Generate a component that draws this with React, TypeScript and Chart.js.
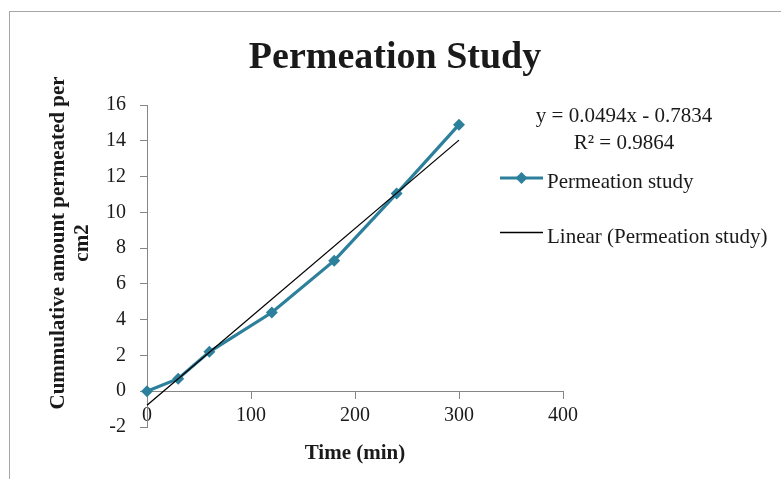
import React, { useEffect, useRef } from "react";
import { Chart, registerables } from "chart.js";

Chart.register(...registerables);

const TIME_MIN = [0, 30, 60, 120, 180, 240, 300];
const AMOUNT = [0, 0.7, 2.2, 4.4, 7.3, 11.05, 14.9];
const TREND_COEF = [0.0494, -0.7834]; // slope, intercept (Excel linear trendline)
const TREND_RANGE = [0, 300];
const X_TICKS = [0, 100, 200, 300, 400];
const Y_TICKS = [-2, 0, 2, 4, 6, 8, 10, 12, 14, 16];
const TITLE = "Permeation Study";
const X_TITLE = "Time (min)";
const Y_TITLE = ["Cummulative amount permeated per", "cm2"];
const SERIES_LABEL = "Permeation study";
const TREND_LABEL = "Linear (Permeation study)";
const EQUATION = ["y = 0.0494x - 0.7834", "R\u00B2 = 0.9864"];

const SERIES_COLOR = "#2C809B";
const AXIS_COLOR = "#868686";
const TEXT_COLOR = "#1a1a1a";
const FONT = "'Liberation Serif', 'Times New Roman', serif";

const W = 781;
const H = 479;

const overlay = {
  id: "overlay",
  beforeDraw(chart: any) {
    const ctx = chart.ctx;
    ctx.save();
    ctx.fillStyle = "#ffffff";
    ctx.fillRect(0, 0, W, H);
    ctx.strokeStyle = "#A6A6A6";
    ctx.lineWidth = 1;
    ctx.strokeRect(9.5, 11.5, 900, 700);
    ctx.restore();
  },
  afterDraw(chart: any) {
    const ctx = chart.ctx;
    const area = chart.chartArea;
    ctx.save();
    ctx.fillStyle = TEXT_COLOR;

    // Title
    ctx.font = `bold 38px ${FONT}`;
    ctx.textAlign = "center";
    ctx.textBaseline = "alphabetic";
    ctx.fillText(TITLE, 395, 68);

    // X axis title
    ctx.font = `bold 21px ${FONT}`;
    ctx.fillText(X_TITLE, (area.left + area.right) / 2, 459);

    // Y axis title (rotated)
    ctx.font = `bold 21px ${FONT}`;
    const yCenter = 243;
    const baselines = [64, 88];
    Y_TITLE.forEach((line, i) => {
      ctx.save();
      ctx.translate(baselines[i], yCenter);
      ctx.rotate(-Math.PI / 2);
      ctx.fillText(line, 0, 0);
      ctx.restore();
    });

    // Trendline equation
    ctx.font = `21px ${FONT}`;
    ctx.fillText(EQUATION[0], 624, 122);
    ctx.fillText(EQUATION[1], 624, 149);

    // Legend
    const ds0 = chart.data.datasets[0];
    const ds1 = chart.data.datasets[1];
    ctx.textAlign = "left";
    // item 1
    ctx.strokeStyle = ds0.borderColor;
    ctx.lineWidth = ds0.borderWidth;
    ctx.beginPath();
    ctx.moveTo(500, 178);
    ctx.lineTo(543, 178);
    ctx.stroke();
    ctx.fillStyle = ds0.pointBackgroundColor;
    ctx.beginPath();
    const r = 6;
    ctx.moveTo(521.5, 178 - r);
    ctx.lineTo(521.5 + r, 178);
    ctx.lineTo(521.5, 178 + r);
    ctx.lineTo(521.5 - r, 178);
    ctx.closePath();
    ctx.fill();
    ctx.fillStyle = TEXT_COLOR;
    ctx.fillText(ds0.label, 547, 188);
    // item 2
    ctx.strokeStyle = ds1.borderColor;
    ctx.lineWidth = ds1.borderWidth;
    ctx.beginPath();
    ctx.moveTo(500, 232.5);
    ctx.lineTo(543, 232.5);
    ctx.stroke();
    ctx.fillText(ds1.label, 547, 243);

    ctx.restore();
  },
};

export default function App() {
  const ref = useRef<HTMLCanvasElement | null>(null);

  useEffect(() => {
    if (!ref.current) return;
    const seriesPoints = TIME_MIN.map((x, i) => ({ x, y: AMOUNT[i] }));
    const trendPoints = TREND_RANGE.map((x) => ({ x, y: TREND_COEF[0] * x + TREND_COEF[1] }));

    const chart = new Chart(ref.current, {
      type: "scatter",
      data: {
        datasets: [
          {
            label: SERIES_LABEL,
            data: seriesPoints,
            showLine: true,
            borderColor: SERIES_COLOR,
            backgroundColor: SERIES_COLOR,
            borderWidth: 3.2,
            pointStyle: "rectRot",
            pointRadius: 6,
            pointBackgroundColor: SERIES_COLOR,
            pointBorderColor: SERIES_COLOR,
            pointBorderWidth: 0,
            clip: false,
            order: 1,
          } as any,
          {
            label: TREND_LABEL,
            data: trendPoints,
            showLine: true,
            borderColor: "#000000",
            borderWidth: 1.3,
            pointRadius: 0,
            clip: false,
            order: 0,
          } as any,
        ],
      },
      options: {
        responsive: false,
        animation: false,
        layout: { padding: { left: 87, right: 218, top: 105, bottom: 52 } },
        plugins: {
          legend: { display: false },
          tooltip: { enabled: false },
          title: { display: false },
        },
        scales: {
          x: {
            type: "linear",
            position: { y: 0 } as any,
            min: 0,
            max: 400,
            afterBuildTicks: (s: any) => {
              s.ticks = X_TICKS.map((v) => ({ value: v }));
            },
            afterFit: (s: any) => {
              s.height = 0;
              s.paddingLeft = 0;
              s.paddingRight = 0;
            },
            grid: {
              drawOnChartArea: false,
              drawTicks: true,
              tickLength: 7,
              color: AXIS_COLOR,
            },
            border: { display: true, color: AXIS_COLOR, width: 1 },
            ticks: {
              padding: 6,
              maxRotation: 0,
              autoSkip: false,
              color: TEXT_COLOR,
              font: { family: FONT, size: 20 },
            },
          },
          y: {
            type: "linear",
            position: "left",
            min: -2,
            max: 16,
            afterBuildTicks: (s: any) => {
              s.ticks = Y_TICKS.map((v) => ({ value: v }));
            },
            afterFit: (s: any) => {
              s.width = 60;
              s.paddingTop = 0;
              s.paddingBottom = 0;
            },
            grid: {
              drawOnChartArea: false,
              drawTicks: true,
              tickLength: 7,
              color: AXIS_COLOR,
            },
            border: { display: true, color: AXIS_COLOR, width: 1 },
            ticks: {
              padding: 14,
              autoSkip: false,
              color: TEXT_COLOR,
              font: { family: FONT, size: 20 },
            },
          },
        },
      },
      plugins: [overlay],
    });
    return () => chart.destroy();
  }, []);

  return (
    <div
      style={{
        position: "fixed",
        left: 0,
        top: 0,
        width: W,
        height: H,
        overflow: "hidden",
        background: "#fff",
      }}
    >
      <canvas ref={ref} width={W} height={H} style={{ display: "block", width: W, height: H }} />
    </div>
  );
}
